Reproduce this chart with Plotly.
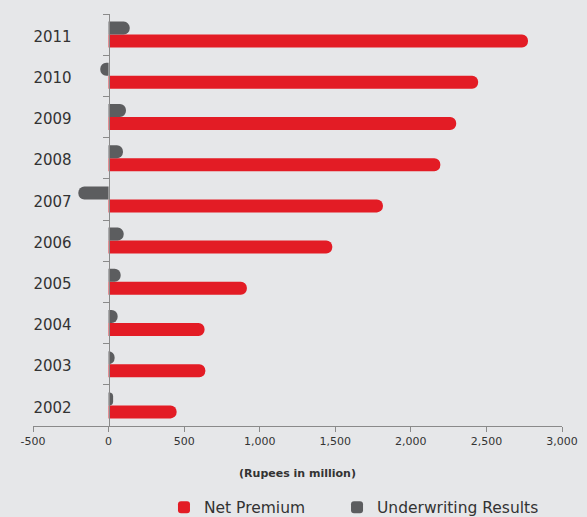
import plotly.graph_objects as go

# Fiscal years, bottom to top
years = ["2002", "2003", "2004", "2005", "2006", "2007", "2008", "2009", "2010", "2011"]
# Rupees in million
net_premium = [450, 640, 635, 915, 1480, 1815, 2195, 2300, 2445, 2775]
underwriting_results = [30, 40, 60, 80, 100, -200, 95, 115, -55, 140]

x_ticks = [-500, 0, 500, 1000, 1500, 2000, 2500, 3000]
x_tick_text = ["-500", "0", "500", "1,000", "1,500", "2,000", "2,500", "3,000"]

RED = "#e31c25"
GREY = "#5c5d5f"
TEXT = "#333333"
AXIS = "#8a8a8a"
BG = "#e6e7e9"

fig = go.Figure()
fig.add_trace(go.Bar(
    y=years, x=net_premium, orientation="h", name="Net Premium",
    marker=dict(color=RED, cornerradius=6, line=dict(width=0)),
    legend="legend",
))
fig.add_trace(go.Bar(
    y=years, x=underwriting_results, orientation="h", name="Underwriting Results",
    marker=dict(color=GREY, cornerradius=6, line=dict(width=0)),
    legend="legend2",
))

legend_style = dict(
    orientation="h", xanchor="left",
    yref="container", y=0.018, yanchor="middle",
    font=dict(size=15.5, color=TEXT), bgcolor="rgba(0,0,0,0)",
    itemwidth=30,
)

fig.update_layout(
    width=587, height=517,
    margin=dict(l=33, r=25, t=14, b=91, autoexpand=False),
    paper_bgcolor=BG, plot_bgcolor=BG,
    barmode="group", bargap=0.37, bargroupgap=0,
    font=dict(family="DejaVu Sans, Verdana, sans-serif", color=TEXT),
    showlegend=True,
    legend=dict(x=0.2476, **legend_style),
    legend2=dict(x=0.5747, **legend_style),
    xaxis=dict(
        range=[-500, 3000], tickvals=x_ticks, ticktext=x_tick_text,
        showgrid=False, zeroline=False, automargin=False,
        showline=True, linecolor=AXIS, linewidth=1,
        ticks="outside", ticklen=5, tickcolor=AXIS,
        tickfont=dict(size=11, color=TEXT),
        title=dict(text="<b>(Rupees in million)</b>", font=dict(size=11, color=TEXT), standoff=22),
        fixedrange=True,
    ),
    yaxis=dict(
        type="category", categoryorder="array", categoryarray=years,
        anchor="free", position=(0 - (-500)) / 3500,
        showgrid=False, zeroline=False, automargin=False,
        showline=True, linecolor=AXIS, linewidth=1,
        ticks="outside", ticklen=6, tickcolor=AXIS, tickson="boundaries",
        tickfont=dict(size=15, color=TEXT),
        ticklabelstandoff=34, ticklabelshift=2,
        fixedrange=True,
    ),
)

fig.write_html("out.html")
